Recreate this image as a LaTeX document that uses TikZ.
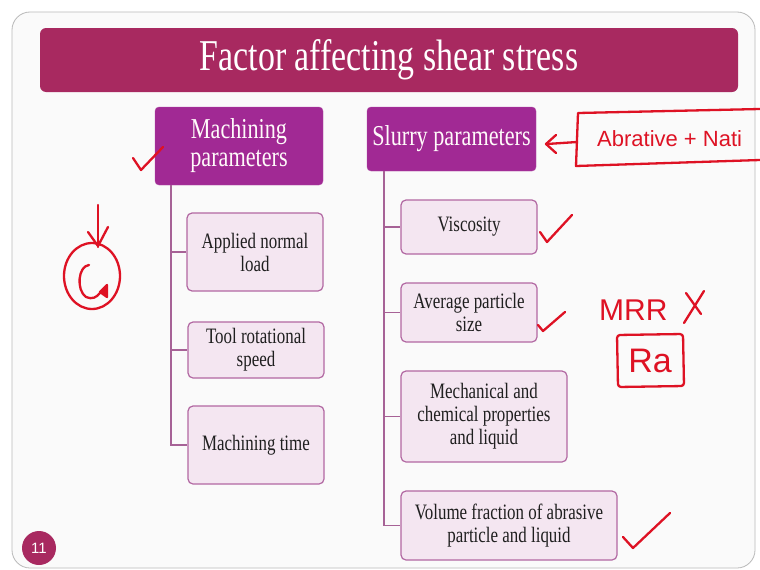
\documentclass[tikz,border=0pt]{standalone}
\usepackage{fontspec}
\newfontfamily\slideserif[FakeStretch=0.77]{Liberation Serif}
\newfontfamily\slidesans{Liberation Sans}
\newfontfamily\inkfont{Liberation Sans}

\definecolor{titlecol}{RGB}{168,41,96}
\definecolor{headcol}{RGB}{161,41,148}
\definecolor{itemfill}{RGB}{244,230,241}
\definecolor{itemdraw}{RGB}{178,104,162}
\definecolor{conncol}{RGB}{166,98,150}
\definecolor{inkred}{RGB}{222,18,36}
\definecolor{pagebg}{RGB}{250,250,250}
\definecolor{framecol}{RGB}{185,185,185}

\tikzset{
  headbox/.style={rectangle, rounded corners=4pt, fill=headcol, draw=headcol!85!white,
    text=white!92!pink, font=\slideserif\fontsize{28.8}{28}\selectfont,
    align=center, inner sep=0pt},
  itembox/.style={rectangle, rounded corners=5pt, fill=itemfill, draw=itemdraw,
    line width=1.2pt, font=\slideserif\fontsize{22}{23}\selectfont,
    align=center, inner sep=0pt, text=black!88},
  conn/.style={draw=conncol, line width=1.6pt},
  ink/.style={draw=inkred, line width=2.3pt, line cap=round, line join=round},
  inktext/.style={text=inkred, inner sep=0pt, font=\inkfont},
}

\begin{document}
\begin{tikzpicture}[x=1pt,y=-1pt]
\useasboundingbox (0,0) rectangle (760,570);
\clip (0,0) rectangle (760,570);

% slide frame
\fill[white] (0,0) rectangle (760,570);
\draw[framecol, fill=pagebg, line width=0.8pt, rounded corners=18pt] (12,12) rectangle (755,568);

% title bar
\node[rectangle, rounded corners=6pt, fill=titlecol, minimum width=698pt, minimum height=64pt,
  text=white, font=\slideserif\fontsize{44}{48}\selectfont, inner sep=0pt]
  (title) at (389,60) {Factor affecting shear stress};

% left branch
\node[headbox, minimum width=168pt, minimum height=78pt] (mhead) at (239,146) {Machining\\parameters};
\node[itembox, minimum width=136pt, minimum height=78pt] (apl) at (255,252) {Applied normal\\load};
\node[itembox, minimum width=136pt, minimum height=56pt] (trs) at (256,350) {Tool rotational\\speed};
\node[itembox, minimum width=136pt, minimum height=78pt] (mt) at (256,445) {Machining time};

% right branch
\node[headbox, minimum width=169pt, minimum height=64pt] (shead) at (451.5,139) {Slurry parameters};
\node[itembox, minimum width=136pt, minimum height=54pt] (visc) at (469,227) {Viscosity};
\node[itembox, minimum width=136pt, minimum height=59pt] (aps) at (469,312.5) {Average particle\\size};
\node[itembox, minimum width=166pt, minimum height=91pt] (mcp) at (484,416.5) {Mechanical and\\chemical properties\\and liquid};
\node[itembox, minimum width=216pt, minimum height=69pt] (vf) at (509,525.5) {Volume fraction of abrasive\\particle and liquid};

% tree connectors
\draw[conn] ([xshift=16pt]mhead.south west) |- (mt.west);
\draw[conn] ([xshift=16pt]mhead.south west) |- (apl.west);
\draw[conn] ([xshift=16pt]mhead.south west) |- (trs.west);
\draw[conn] ([xshift=17pt]shead.south west) |- (vf.west);
\draw[conn] ([xshift=17pt]shead.south west) |- (visc.west);
\draw[conn] ([xshift=17pt]shead.south west) |- (aps.west);
\draw[conn] ([xshift=17pt]shead.south west) |- (mcp.west);

% page number
\node[circle, fill=titlecol, minimum size=34pt, inner sep=0pt, text=white,
  font=\slidesans\fontsize{15}{15}\selectfont] (pnum) at (39,548) {11};

% ---- red ink annotations ----
% tick beside the machining header
\draw[ink] (133,158) -- (141,170) -- (163,147);
% arrow and circled G
\draw[ink] (98,205) -- (98,247);
\draw[ink] (88,232) -- (98,246) -- (108,227);
\draw[ink] (92,276) ellipse [x radius=28, y radius=33];
\draw[ink] (89,265) .. controls (78,266) and (76,290) .. (86,297) .. controls (92,300) and (97,297) .. (100,293);
\draw[ink, fill=inkred] (100,292) -- (107,285) -- (107,297) -- cycle;

% arrow to slurry header and note box
\draw[ink] (556,135) -- (546,144) -- (556,153);
\draw[ink] (547,144) -- (577,142);
\draw[ink] (760,109) -- (578,113) -- (576,166) -- (760,160);
\node[inktext, anchor=base west, font=\inkfont\fontsize{22}{22}\selectfont] (note) at (597,146) {Abrative + Nati};

% ticks beside items
\draw[ink] (540,232) -- (547,242) -- (572,215);
\draw[ink] (538,325) -- (543,331) -- (565,312);
\draw[ink] (623,537) -- (633,548) -- (670,513);

% MRR and Ra
\node[inktext, anchor=base west, font=\inkfont\fontsize{30}{30}\selectfont] (mrr) at (599,320) {MRR};
\draw[ink] (686,293) -- (701,314);
\draw[ink] (704,291) -- (684,323);
\draw[ink, rounded corners=3pt] (617,335) -- (683,334) -- (684,386) -- (618,387) -- cycle;
\node[inktext, font=\inkfont\fontsize{34}{34}\selectfont] (ra) at (650,361) {Ra};
\end{tikzpicture}
\end{document}
